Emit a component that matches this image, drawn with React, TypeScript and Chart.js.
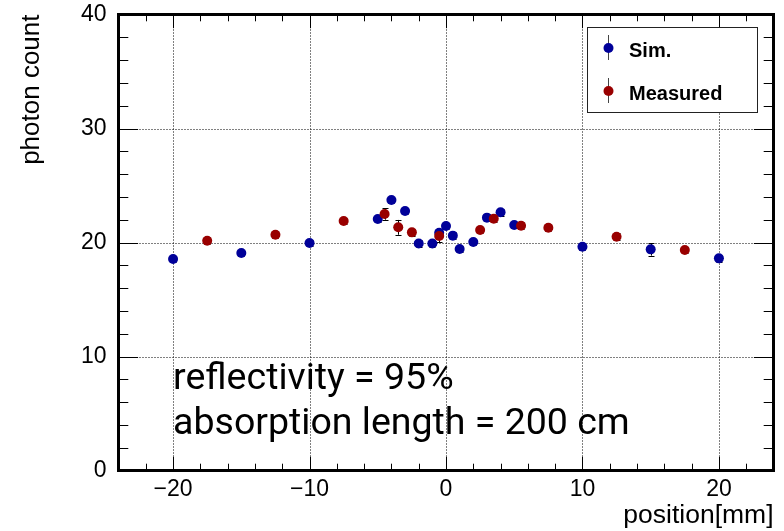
import React, { useEffect, useRef } from "react";
import { Chart, registerables } from "chart.js";

Chart.register(...registerables);

// ---- data ----
const simX = [-20, -15, -10, -5, -4, -3, -2, -1, -0.5, 0, 0.5, 1, 2, 3, 4, 5, 10, 15, 20];
const simY = [18.55, 19.08, 19.96, 22.06, 23.73, 22.76, 19.91, 19.91, 20.86, 21.45, 20.6, 19.43, 20.04, 22.18, 22.65, 21.54, 19.63, 19.4, 18.61];
const simErr = [0.3, 0.3, 0.3, 0.3, 0.3, 0.3, 0.3, 0.3, 0.3, 0.3, 0.3, 0.3, 0.3, 0.3, 0.3, 0.3, 0.3, 0.55, 0.3];

const measX = [-17.5, -12.5, -7.5, -4.5, -3.5, -2.5, -0.5, 2.5, 3.5, 5.5, 7.5, 12.5, 17.5];
const measY = [20.16, 20.68, 21.89, 22.5, 21.33, 20.89, 20.57, 21.1, 22.09, 21.47, 21.3, 20.5, 19.34];
const measErr = [0.3, 0.3, 0.3, 0.5, 0.65, 0.3, 0.55, 0.3, 0.3, 0.3, 0.3, 0.3, 0.3];

const xTickLabels = [-20, -10, 0, 10, 20];
const yTickLabels = [0, 10, 20, 30, 40];
const xMinorTicks = [-24, -22, -20, -18, -16, -14, -12, -10, -8, -6, -4, -2, 0, 2, 4, 6, 8, 10, 12, 14, 16, 18, 20, 22, 24];
const yMinorTicks = [0, 2, 4, 6, 8, 10, 12, 14, 16, 18, 20, 22, 24, 26, 28, 30, 32, 34, 36, 38, 40];
const xGrid = [-20, -10, 0, 10, 20];
const yGrid = [10, 20, 30];

const seriesNames = ["Sim.", "Measured"];
const annotationLines = ["reflectivity = 95%", "absorption length = 200 cm"];

const BLUE = "#000099";
const RED = "#990000";

const fmt = (v: number) => (v < 0 ? "\u2212" + Math.abs(v) : String(v));

const decor = {
  id: "decor",
  beforeDatasetsDraw(chart: any) {
    const { ctx, chartArea: a, scales } = chart;
    const x = scales.x, y = scales.y;
    ctx.save();
    ctx.strokeStyle = "#000";
    ctx.lineWidth = 1;
    ctx.setLineDash([1, 2]);
    ctx.beginPath();
    for (const v of xGrid) {
      const px = Math.round(x.getPixelForValue(v)) + 0.5;
      ctx.moveTo(px, a.top);
      ctx.lineTo(px, a.bottom);
    }
    for (const v of yGrid) {
      const py = Math.round(y.getPixelForValue(v)) + 0.5;
      ctx.moveTo(a.left, py);
      ctx.lineTo(a.right, py);
    }
    ctx.stroke();
    ctx.setLineDash([]);

    // error bars
    const sets = [
      { xs: simX, ys: simY, es: simErr },
      { xs: measX, ys: measY, es: measErr },
    ];
    ctx.beginPath();
    for (const s of sets) {
      s.xs.forEach((xv, i) => {
        const px = Math.round(x.getPixelForValue(xv)) + 0.5;
        const p1 = y.getPixelForValue(s.ys[i] + s.es[i]);
        const p2 = y.getPixelForValue(s.ys[i] - s.es[i]);
        ctx.moveTo(px, p1);
        ctx.lineTo(px, p2);
        ctx.moveTo(px - 3, Math.round(p1) + 0.5);
        ctx.lineTo(px + 3, Math.round(p1) + 0.5);
        ctx.moveTo(px - 3, Math.round(p2) + 0.5);
        ctx.lineTo(px + 3, Math.round(p2) + 0.5);
      });
    }
    ctx.stroke();
    ctx.restore();
  },
  afterDatasetsDraw(chart: any) {
    const { ctx, chartArea: a, scales } = chart;
    const x = scales.x, y = scales.y;
    ctx.save();

    // ticks
    ctx.strokeStyle = "#000";
    ctx.lineWidth = 1;
    ctx.beginPath();
    const xMaj = 13.7, xMin = 6.8, yMaj = 19.6, yMin = 9.8;
    for (const v of xMinorTicks) {
      const px = Math.round(x.getPixelForValue(v)) + 0.5;
      const len = v % 10 === 0 ? xMaj : xMin;
      ctx.moveTo(px, a.bottom);
      ctx.lineTo(px, a.bottom - len);
      ctx.moveTo(px, a.top);
      ctx.lineTo(px, a.top + len);
    }
    for (const v of yMinorTicks) {
      const py = Math.round(y.getPixelForValue(v)) + 0.5;
      const len = v % 10 === 0 ? yMaj : yMin;
      ctx.moveTo(a.left, py);
      ctx.lineTo(a.left + len, py);
      ctx.moveTo(a.right, py);
      ctx.lineTo(a.right - len, py);
    }
    ctx.stroke();

    // frame
    ctx.lineWidth = 3;
    ctx.strokeRect(a.left, a.top, a.right - a.left, a.bottom - a.top);

    // annotation
    ctx.fillStyle = "#000";
    ctx.font = "37.5px Roboto";
    ctx.textBaseline = "alphabetic";
    ctx.textAlign = "left";
    const ax = x.getPixelForValue(-20);
    ctx.fillText(annotationLines[0], ax, 389);
    ctx.fillText(annotationLines[1], ax, 434);

    // legend
    const lx = 587.5, ly = 27.5, lw = 170, lh = 85;
    ctx.fillStyle = "#fff";
    ctx.fillRect(lx, ly, lw, lh);
    ctx.strokeStyle = "#222";
    ctx.lineWidth = 1;
    ctx.strokeRect(lx, ly, lw, lh);
    const entries = [
      { name: seriesNames[0], color: BLUE, cy: 48 },
      { name: seriesNames[1], color: RED, cy: 91 },
    ];
    for (const e of entries) {
      ctx.strokeStyle = "#444";
      ctx.lineWidth = 1;
      ctx.beginPath();
      ctx.moveTo(608.5, e.cy - 13);
      ctx.lineTo(608.5, e.cy + 12);
      ctx.stroke();
      ctx.fillStyle = e.color;
      ctx.beginPath();
      ctx.arc(608.5, e.cy, 5, 0, Math.PI * 2);
      ctx.fill();
      ctx.fillStyle = "#000";
      ctx.font = "bold 20px 'Liberation Sans', Arial, sans-serif";
      ctx.textBaseline = "alphabetic";
      ctx.fillText(e.name, 629, e.cy + 9);
    }
    ctx.restore();
  },
};

export default function App() {
  const ref = useRef<HTMLCanvasElement | null>(null);
  useEffect(() => {
    if (!ref.current) return;
    const chart = new Chart(ref.current, {
      type: "scatter",
      data: {
        datasets: [
          {
            label: seriesNames[0],
            data: simX.map((v, i) => ({ x: v, y: simY[i] })),
            backgroundColor: BLUE,
            borderColor: BLUE,
            pointRadius: 5,
            pointBorderWidth: 0,
            order: 1,
          },
          {
            label: seriesNames[1],
            data: measX.map((v, i) => ({ x: v, y: measY[i] })),
            backgroundColor: RED,
            borderColor: RED,
            pointRadius: 5,
            pointBorderWidth: 0,
            order: 0,
          },
        ],
      },
      options: {
        responsive: false,
        animation: false,
        events: [],
        layout: { padding: { top: 14.5, right: 10.5, left: 0, bottom: 0 } },
        plugins: { legend: { display: false }, tooltip: { enabled: false } },
        scales: {
          x: {
            type: "linear",
            min: -24,
            max: 24,
            afterBuildTicks: (s: any) => {
              s.ticks = xTickLabels.map((v) => ({ value: v }));
            },
            afterFit: (s: any) => {
              s.height = 60.5;
              s.paddingLeft = 0;
              s.paddingRight = 0;
            },
            grid: { display: false, drawTicks: false },
            border: { display: false },
            ticks: {
              autoSkip: false,
              maxRotation: 0,
              padding: 5,
              color: "#000",
              font: { family: "'Liberation Sans', Arial, sans-serif", size: 23 },
              callback: (v: any) => fmt(Number(v)),
            },
            title: {
              display: true,
              text: "position[mm]",
              align: "end",
              color: "#000",
              font: { family: "'Liberation Sans', Arial, sans-serif", size: 26.5 },
              padding: { top: 0, bottom: -1 },
            },
          },
          y: {
            type: "linear",
            min: 0,
            max: 40,
            afterBuildTicks: (s: any) => {
              s.ticks = yTickLabels.map((v) => ({ value: v }));
            },
            afterFit: (s: any) => {
              s.width = 118.5;
              s.paddingTop = 0;
              s.paddingBottom = 0;
            },
            grid: { display: false, drawTicks: false },
            border: { display: false },
            ticks: {
              autoSkip: false,
              padding: 12,
              color: "#000",
              font: { family: "'Liberation Sans', Arial, sans-serif", size: 23 },
              callback: (v: any) => fmt(Number(v)),
            },
            title: {
              display: true,
              text: "photon count",
              align: "end",
              color: "#000",
              font: { family: "'Liberation Sans', Arial, sans-serif", size: 26 },
              padding: { top: 16, bottom: 0 },
            },
          },
        },
      },
      plugins: [decor],
    } as any);
    return () => chart.destroy();
  }, []);
  return (
    <div style={{ position: "absolute", left: 0, top: 0, width: 784, height: 531, background: "#fff" }}>
      <canvas ref={ref} width={784} height={531} style={{ display: "block" }} />
    </div>
  );
}
